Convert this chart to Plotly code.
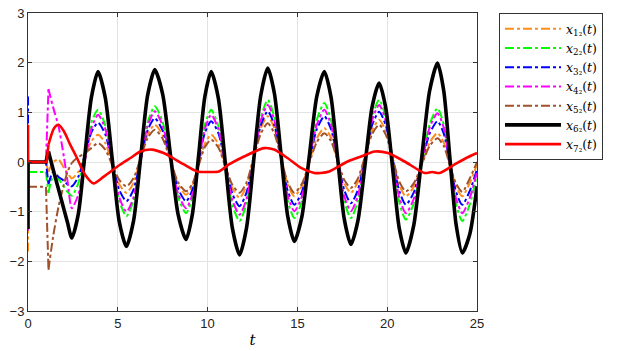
import plotly.graph_objects as go

# time grid shared by x1..x6 (at extrema and in-between points)
t_osc = [0, 0.005, 1.0, 1.14, 1.4, 1.7, 2.0, 2.2, 2.44, 2.8, 3.17, 3.53, 3.9,
         4.3, 4.69, 5.08, 5.48, 5.88, 6.27, 6.66, 7.06, 7.5, 7.93, 8.36, 8.8,
         9.15, 9.5, 9.85, 10.2, 10.6, 10.99, 11.38, 11.78, 12.17, 12.56, 12.96,
         13.35, 13.72, 14.09, 14.46, 14.83, 15.25, 15.66, 16.08, 16.5, 16.87,
         17.24, 17.61, 17.98, 18.37, 18.77, 19.16, 19.55, 19.92, 20.3, 20.67,
         21.04, 21.48, 21.92, 22.36, 22.8, 23.15, 23.49, 23.84, 24.18, 24.6, 25.0]

x1 = [-1.8, 0, 0, -0.2, 0.0, 0.05, -0.12, -0.22, -0.33, -0.2, 0.11, 0.42, 0.55,
      0.38, -0.04, -0.45, -0.62, -0.42, 0.07, 0.55, 0.75, 0.54, 0.05, -0.45, -0.66,
      -0.48, -0.05, 0.37, 0.55, 0.36, -0.09, -0.53, -0.72, -0.48, 0.1, 0.68,
      0.92, 0.68, 0.12, -0.45, -0.69, -0.48, 0.0, 0.48, 0.68, 0.49,
      0.03, -0.43, -0.62, -0.4, 0.12, 0.63, 0.85, 0.62, 0.08, -0.46,
      -0.69, -0.5, -0.06, 0.39, 0.58, 0.39, -0.06, -0.5, -0.69, -0.42, -0.05]

x2 = [-0.2, -0.2, -0.2, -0.62, -0.3, -0.35, -0.5, -0.6, -0.68, -0.43, 0.19, 0.8, 1.05,
      0.74, -0.02, -0.78, -1.09, -0.77, 0.02, 0.8, 1.12, 0.8, 0.05, -0.71, -1.03,
      -0.73, 0.01, 0.75, 1.05, 0.72, -0.07, -0.86, -1.19, -0.83, 0.03, 0.89,
      1.25, 0.9, 0.06, -0.78, -1.13, -0.79, 0.03, 0.85, 1.19, 0.85,
      0.03, -0.79, -1.13, -0.78, 0.06, 0.9, 1.25, 0.9, 0.05, -0.81,
      -1.16, -0.83, -0.04, 0.75, 1.08, 0.75, -0.06, -0.86, -1.19, -0.85, -0.25]

x3 = [1.32, 0, 0, -0.45, -0.2, -0.3, -0.38, -0.45, -0.49, -0.3, 0.15, 0.6, 0.79,
      0.56, 0.0, -0.56, -0.79, -0.55, 0.05, 0.64, 0.88, 0.63, 0.05, -0.54, -0.79,
      -0.56, 0.02, 0.59, 0.82, 0.58, -0.04, -0.64, -0.89, -0.61, 0.07, 0.74,
      1.02, 0.74, 0.08, -0.58, -0.86, -0.6, 0.03, 0.66, 0.92, 0.66,
      0.05, -0.57, -0.83, -0.56, 0.09, 0.74, 1.01, 0.74, 0.08, -0.58,
      -0.86, -0.61, -0.02, 0.57, 0.82, 0.57, -0.02, -0.61, -0.86, -0.58, -0.15]

x4 = [-1.38, 0, 0, 1.47, 1.1, 0.72, 0.1, -0.38, -0.93, -0.66, 0.01, 0.67, 0.95,
      0.67, -0.02, -0.71, -1.0, -0.71, 0.01, 0.72, 1.02, 0.73, 0.05, -0.64, -0.93,
      -0.66, 0.01, 0.67, 0.95, 0.66, -0.06, -0.77, -1.06, -0.74, 0.05, 0.83,
      1.15, 0.84, 0.08, -0.68, -0.99, -0.69, 0.03, 0.75, 1.05, 0.75,
      0.03, -0.69, -0.99, -0.68, 0.08, 0.84, 1.15, 0.83, 0.06, -0.71,
      -1.03, -0.74, -0.03, 0.69, 0.98, 0.69, -0.03, -0.74, -1.03, -0.72, -0.2]

x5 = [-0.5, -0.5, -0.5, -2.17, -1.5, -0.9, -0.45, -0.2, -0.02, 0.1, 0.18, 0.28, 0.38,
      0.25, -0.06, -0.36, -0.49, -0.32, 0.08, 0.48, 0.65, 0.47, 0.03, -0.41, -0.59,
      -0.44, -0.07, 0.3, 0.45, 0.29, -0.09, -0.46, -0.62, -0.41, 0.08, 0.57,
      0.78, 0.57, 0.08, -0.41, -0.62, -0.44, -0.02, 0.4, 0.58, 0.42,
      0.03, -0.36, -0.52, -0.33, 0.12, 0.56, 0.75, 0.55, 0.08, -0.39,
      -0.59, -0.43, -0.06, 0.32, 0.48, 0.32, -0.06, -0.44, -0.6, -0.33, 0.0]

x6 = [-1.35, 0, 0, 0.21, -0.15, -0.55, -0.95, -1.22, -1.53, -1.05, 0.15, 1.3, 1.82,
      1.3, 0.06, -1.2, -1.7, -1.18, 0.08, 1.34, 1.86, 1.36, 0.15, -1.06, -1.56,
      -1.06, 0.13, 1.32, 1.82, 1.28, -0.03, -1.33, -1.87, -1.32, 0.01, 1.34,
      1.89, 1.38, 0.15, -1.09, -1.6, -1.1, 0.11, 1.32, 1.82, 1.31,
      0.08, -1.15, -1.66, -1.18, -0.04, 1.11, 1.59, 1.09, -0.12, -1.33,
      -1.83, -1.27, 0.08, 1.43, 1.99, 1.43, 0.08, -1.27, -1.83, -1.45, -0.49]

t_red = [0, 0.005, 1.04, 1.14, 1.45, 1.69, 2.0, 2.35, 2.7, 3.17, 3.65, 4.2, 5.14,
         5.7, 6.26, 6.9, 7.55, 7.93, 8.68, 9.42, 10.0, 10.63, 11.19, 12.03, 13.15,
         13.7, 14.45, 15.2, 15.94, 16.3, 16.78, 17.8, 18.55, 19.3, 20.04, 20.97,
         22.08, 22.5, 22.92, 23.76, 24.4, 25.0]
x7 = [0.75, 0, 0, 0.35, 0.68, 0.75, 0.62, 0.35, 0.1, -0.25, -0.43, -0.3, -0.05,
      0.08, 0.21, 0.25, 0.18, 0.11, -0.05, -0.19, -0.2, -0.19, -0.05, 0.11, 0.28,
      0.25, 0.08, -0.12, -0.22, -0.22, -0.19, 0.01, 0.11, 0.21, 0.18, 0.01,
      -0.22, -0.2, -0.22, -0.05, 0.08, 0.18]

names = ["<i>x</i><sub>1₂</sub>(<i>t</i>)",
         "<i>x</i><sub>2₂</sub>(<i>t</i>)",
         "<i>x</i><sub>3₂</sub>(<i>t</i>)",
         "<i>x</i><sub>4₂</sub>(<i>t</i>)",
         "<i>x</i><sub>5₂</sub>(<i>t</i>)",
         "<i>x</i><sub>6₂</sub>(<i>t</i>)",
         "<i>x</i><sub>7₂</sub>(<i>t</i>)"]

fig = go.Figure()
styles = [(x1, "#FF8C1A", 2.0, "dashdot"),
          (x2, "#00FF00", 2.0, "dashdot"),
          (x3, "#0000FF", 2.0, "dashdot"),
          (x4, "#FF00FF", 2.0, "dashdot"),
          (x5, "#A0522D", 2.0, "dashdot"),
          (x6, "#000000", 3.6, "solid")]
# the jumps at t=0 and t=1 are drawn straight, the rest smoothed
cut = 4
for i, (ys, col, w, d) in enumerate(styles):
    fig.add_trace(go.Scatter(x=t_osc[:cut], y=ys[:cut], mode="lines", showlegend=False,
                             legendgroup=str(i), hoverinfo="skip",
                             line=dict(color=col, width=w, dash=d)))
    fig.add_trace(go.Scatter(x=t_osc[cut - 1:], y=ys[cut - 1:], mode="lines", name=names[i],
                             legendgroup=str(i),
                             line=dict(color=col, width=w, dash=d, shape="spline", smoothing=0.7)))
fig.add_trace(go.Scatter(x=t_red[:4], y=x7[:4], mode="lines", showlegend=False,
                         legendgroup="6", hoverinfo="skip",
                         line=dict(color="#FF0000", width=2.6)))
fig.add_trace(go.Scatter(x=t_red[3:], y=x7[3:], mode="lines", name=names[6], legendgroup="6",
                         line=dict(color="#FF0000", width=2.6, shape="spline", smoothing=0.7)))

axfont = dict(family="Liberation Sans, Arial", size=13, color="#222")
# page body has an 8px margin, so the figure is sized/offset for that
fig.update_layout(
    width=620, height=343,
    margin=dict(l=20, r=151, t=5, b=40),
    plot_bgcolor="white", paper_bgcolor="white",
    showlegend=True,
    legend=dict(x=1.049, y=1, xanchor="left", yanchor="top",
                bordercolor="#333", borderwidth=1, bgcolor="white",
                font=dict(family="DejaVu Serif, Liberation Serif", size=12.5, color="black"),
                tracegroupgap=0, itemwidth=56),
)
fig.update_xaxes(range=[0, 25], tickvals=[0, 5, 10, 15, 20, 25], showgrid=True, automargin=False,
                 gridcolor="#e3e3e3", zeroline=False, showline=True, linecolor="#333",
                 linewidth=1, mirror="ticks", ticks="inside", ticklen=4, tickcolor="#333",
                 tickfont=axfont, ticklabeloverflow="allow",
                 title=dict(text="<i>t</i>", font=dict(family="DejaVu Serif, Liberation Serif",
                                                       size=15, color="black"), standoff=4))
fig.update_yaxes(range=[-3, 3], tickvals=[-3, -2, -1, 0, 1, 2, 3], showgrid=True, automargin=False,
                 gridcolor="#e3e3e3", zeroline=False, showline=True, linecolor="#333",
                 linewidth=1, mirror="ticks", ticks="inside", ticklen=4, tickcolor="#333",
                 tickfont=axfont, ticklabeloverflow="allow")

fig.write_html("out.html")
